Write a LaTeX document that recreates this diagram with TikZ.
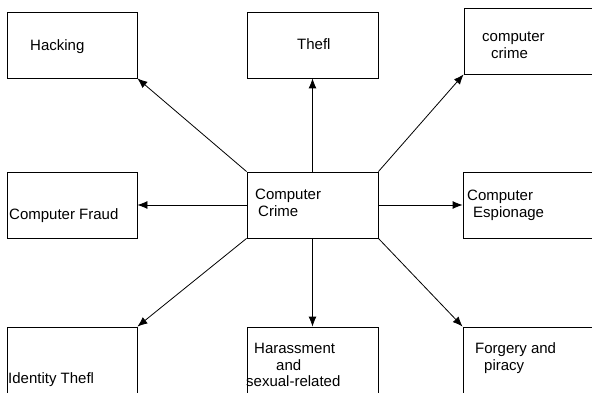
\documentclass[tikz,border=0pt]{standalone}
\usepackage{fontspec}
\setmainfont{Liberation Sans}
\usetikzlibrary{arrows.meta}

\begin{document}
\begin{tikzpicture}[x=1pt, y=-1pt,
    box/.style={draw, line width=0.8pt, inner sep=0pt},
    txt/.style={anchor=base west, inner sep=0pt, align=left,
                font=\fontsize{15}{17}\selectfont}]
\useasboundingbox (0,0) rectangle (592,393);
\clip (0,0) rectangle (592,393);
        % Draw the boxes
        \node[box, minimum width=130pt, minimum height=66pt] at (72, 45)      (hack)  {};
        \node[box, minimum width=131pt, minimum height=66pt] at (312.5, 45)   (theft) {};
        \node[box, minimum width=136pt, minimum height=66pt] at (532, 41)     (cc)    {};
        \node[box, minimum width=130pt, minimum height=66pt] at (72, 205)     (fraud) {};
        \node[box, minimum width=131pt, minimum height=66pt] at (312.5, 205)  (crime) {};
        \node[box, minimum width=137pt, minimum height=66pt] at (531.5, 205)  (esp)   {};
        \node[box, minimum width=130pt, minimum height=73pt] at (72, 363.5)   (ident) {};
        \node[box, minimum width=131pt, minimum height=73pt] at (312.5, 363.5) (har)  {};
        \node[box, minimum width=137pt, minimum height=73pt] at (531.5, 363.5) (forg) {};
        % Write the labels (base = last line)
        \node[txt] at (30, 51)   (hackT)  {Hacking};
        \node[txt] at (297, 50)  (theftT) {Thefl};
        \node[txt] at (482, 59)  (ccT)    {computer\\\hspace{9pt}crime};
        \node[txt] at (9, 219)   (fraudT) {Computer Fraud};
        \node[txt] at (255, 216) (crimeT) {Computer\\\hspace{3pt}Crime};
        \node[txt] at (467, 217) (espT)   {Computer\\\hspace{6pt}Espionage};
        \node[txt] at (8, 383)   (identT) {Identity Thefl};
        \node[txt] at (254, 386) (harT)   {Harassment\\\hspace{22pt}and\\[-1pt]\hspace{-8pt}sexual-related};
        \node[txt] at (475, 370) (forgT)  {Forgery and\\\hspace{9pt}piracy};
        % Connect the boxes with arrows
        \path[line width=0.8pt, -{Latex[length=10pt, width=8pt]}]
            (crime.north west) edge (hack.south east)
            (crime.north)      edge (theft.south)
            (crime.north east) edge (cc.south west)
            (crime.west)       edge (fraud.east)
            (crime.east)       edge (esp.west)
            (crime.south west) edge (ident.north east)
            (crime.south)      edge (har.north)
            (crime.south east) edge (forg.north west);
\end{tikzpicture}
\end{document}
